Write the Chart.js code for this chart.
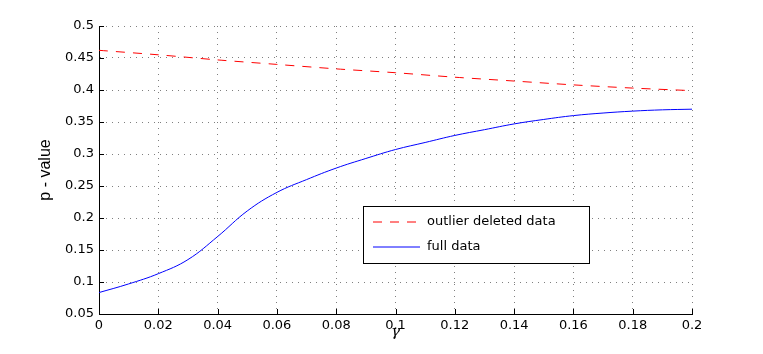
<!DOCTYPE html>
<html>
<head>
<meta charset="utf-8">
<script src="https://cdn.jsdelivr.net/npm/chart.js@4"></script>
<style>
    body { margin: 0; background: #fff; }
    #wrap { width: 763px; height: 354px; }
</style>
</head>
<body>
<div id="wrap"><canvas id="pChart" width="763" height="354"></canvas></div>
<script>
// values
const gammaOutlier = [0, 0.02, 0.04, 0.06, 0.08, 0.1, 0.12, 0.14, 0.16, 0.18, 0.2];
const outlierData = [0.462, 0.455, 0.447, 0.440, 0.433, 0.427, 0.420, 0.414, 0.408, 0.403, 0.399];

const gammaFull = [0, 0.01, 0.02, 0.03, 0.04, 0.05, 0.06, 0.07, 0.08, 0.09, 0.1,
    0.11, 0.12, 0.13, 0.14, 0.15, 0.16, 0.17, 0.18, 0.19, 0.2];
const fullData = [0.0835, 0.097, 0.113, 0.135, 0.171, 0.211, 0.240, 0.260, 0.278, 0.293, 0.307,
    0.318, 0.329, 0.338, 0.347, 0.354, 0.360, 0.364, 0.367, 0.369, 0.370];

const xTicks = [0, 0.02, 0.04, 0.06, 0.08, 0.1, 0.12, 0.14, 0.16, 0.18, 0.2];
const yTicks = [0.05, 0.1, 0.15, 0.2, 0.25, 0.3, 0.35, 0.4, 0.45, 0.5];
const xTickLabels = ["0", "0.02", "0.04", "0.06", "0.08", "0.1", "0.12", "0.14", "0.16", "0.18", "0.2"];
const yTickLabels = ["0.05", "0.1", "0.15", "0.2", "0.25", "0.3", "0.35", "0.4", "0.45", "0.5"];

const tickFont = {family: "DejaVu Sans", size: 13};

// small ticks pointing into the plot, like matlab
const insideTicks = {
    id: 'insideTicks',
    beforeDatasetsDraw(chart) {
        const {ctx, chartArea, scales} = chart;
        ctx.save();
        ctx.strokeStyle = '#000';
        ctx.lineWidth = 1;
        scales.x.ticks.forEach(t => {
            const px = Math.round(scales.x.getPixelForValue(t.value)) + 0.5;
            ctx.beginPath();
            ctx.moveTo(px, chartArea.bottom);
            ctx.lineTo(px, chartArea.bottom - 5);
            ctx.stroke();
        });
        scales.y.ticks.forEach(t => {
            const py = Math.round(scales.y.getPixelForValue(t.value)) + 0.5;
            ctx.beginPath();
            ctx.moveTo(chartArea.left, py);
            ctx.lineTo(chartArea.left + 5, py);
            ctx.stroke();
        });
        ctx.restore();
    }
};

// boxed legend inside the plot
const boxLegend = {
    id: 'boxLegend',
    afterDatasetsDraw(chart) {
        const {ctx, chartArea} = chart;
        const left = chartArea.left + 264;
        const top = chartArea.top + 180;
        const w = 226, h = 57;
        ctx.save();
        ctx.fillStyle = '#fff';
        ctx.fillRect(left, top, w, h);
        ctx.strokeStyle = '#000';
        ctx.lineWidth = 1;
        ctx.strokeRect(left + 0.5, top + 0.5, w, h);
        ctx.font = "13px 'DejaVu Sans'";
        ctx.textBaseline = 'middle';
        chart.data.datasets.forEach((ds, i) => {
            const y = top + 16 + i * 25;
            ctx.strokeStyle = ds.borderColor;
            ctx.lineWidth = ds.borderWidth;
            ctx.setLineDash(ds.borderDash || []);
            ctx.beginPath();
            ctx.moveTo(left + 10, y);
            ctx.lineTo(left + 57, y);
            ctx.stroke();
            ctx.setLineDash([]);
            ctx.fillStyle = '#000';
            ctx.fillText(ds.label, left + 64, y);
        });
        ctx.restore();
    }
};

new Chart(document.getElementById('pChart'), {
    type: 'line',
    data: {
        datasets: [{
                label: 'outlier deleted data',
                data: gammaOutlier.map((g, i) => ({x: g, y: outlierData[i]})),
                borderColor: '#ff0000',
                borderWidth: 1,
                borderDash: [9, 8],
                pointRadius: 0,
                tension: 0.3
            }, {
                label: 'full data',
                data: gammaFull.map((g, i) => ({x: g, y: fullData[i]})),
                borderColor: '#0000ff',
                borderWidth: 1,
                pointRadius: 0,
                tension: 0.4
            }]
    },
    options: {
        responsive: false,
        animation: false,
        layout: {padding: {top: 26, right: 71, left: 0, bottom: 0}},
        plugins: {
            legend: {display: false},
            tooltip: {enabled: false}
        },
        scales: {
            x: {
                type: 'linear',
                min: 0,
                max: 0.2,
                afterBuildTicks: (scale) => { scale.ticks = xTicks.map(v => ({value: v})); },
                afterFit: (scale) => { scale.height = 40; },
                ticks: {
                    color: '#000',
                    font: tickFont,
                    padding: 4,
                    maxRotation: 0,
                    callback: (v) => xTickLabels[xTicks.indexOf(v)]
                },
                grid: {color: 'rgba(0,0,0,0.5)', lineWidth: 1, drawTicks: false},
                border: {display: true, color: '#000', width: 1, dash: [1, 5]},
                title: {
                    display: true,
                    text: 'γ',
                    color: '#000',
                    font: {family: "DejaVu Serif", size: 15, style: 'italic'},
                    padding: {top: 0, bottom: 13}
                }
            },
            y: {
                type: 'linear',
                min: 0.05,
                max: 0.5,
                afterBuildTicks: (scale) => { scale.ticks = yTicks.map(v => ({value: v})); },
                afterFit: (scale) => { scale.width = 99; },
                ticks: {
                    color: '#000',
                    font: tickFont,
                    padding: 5,
                    callback: (v) => yTickLabels[yTicks.indexOf(v)]
                },
                grid: {color: 'rgba(0,0,0,0.5)', lineWidth: 1, drawTicks: false},
                border: {display: true, color: '#000', width: 1, dash: [1, 5]},
                title: {
                    display: true,
                    text: 'p - value',
                    color: '#000',
                    font: {family: "Liberation Sans", size: 16},
                    padding: {top: 36, bottom: 0}
                }
            }
        }
    },
    plugins: [insideTicks, boxLegend]
});
</script>
</body>
</html>
